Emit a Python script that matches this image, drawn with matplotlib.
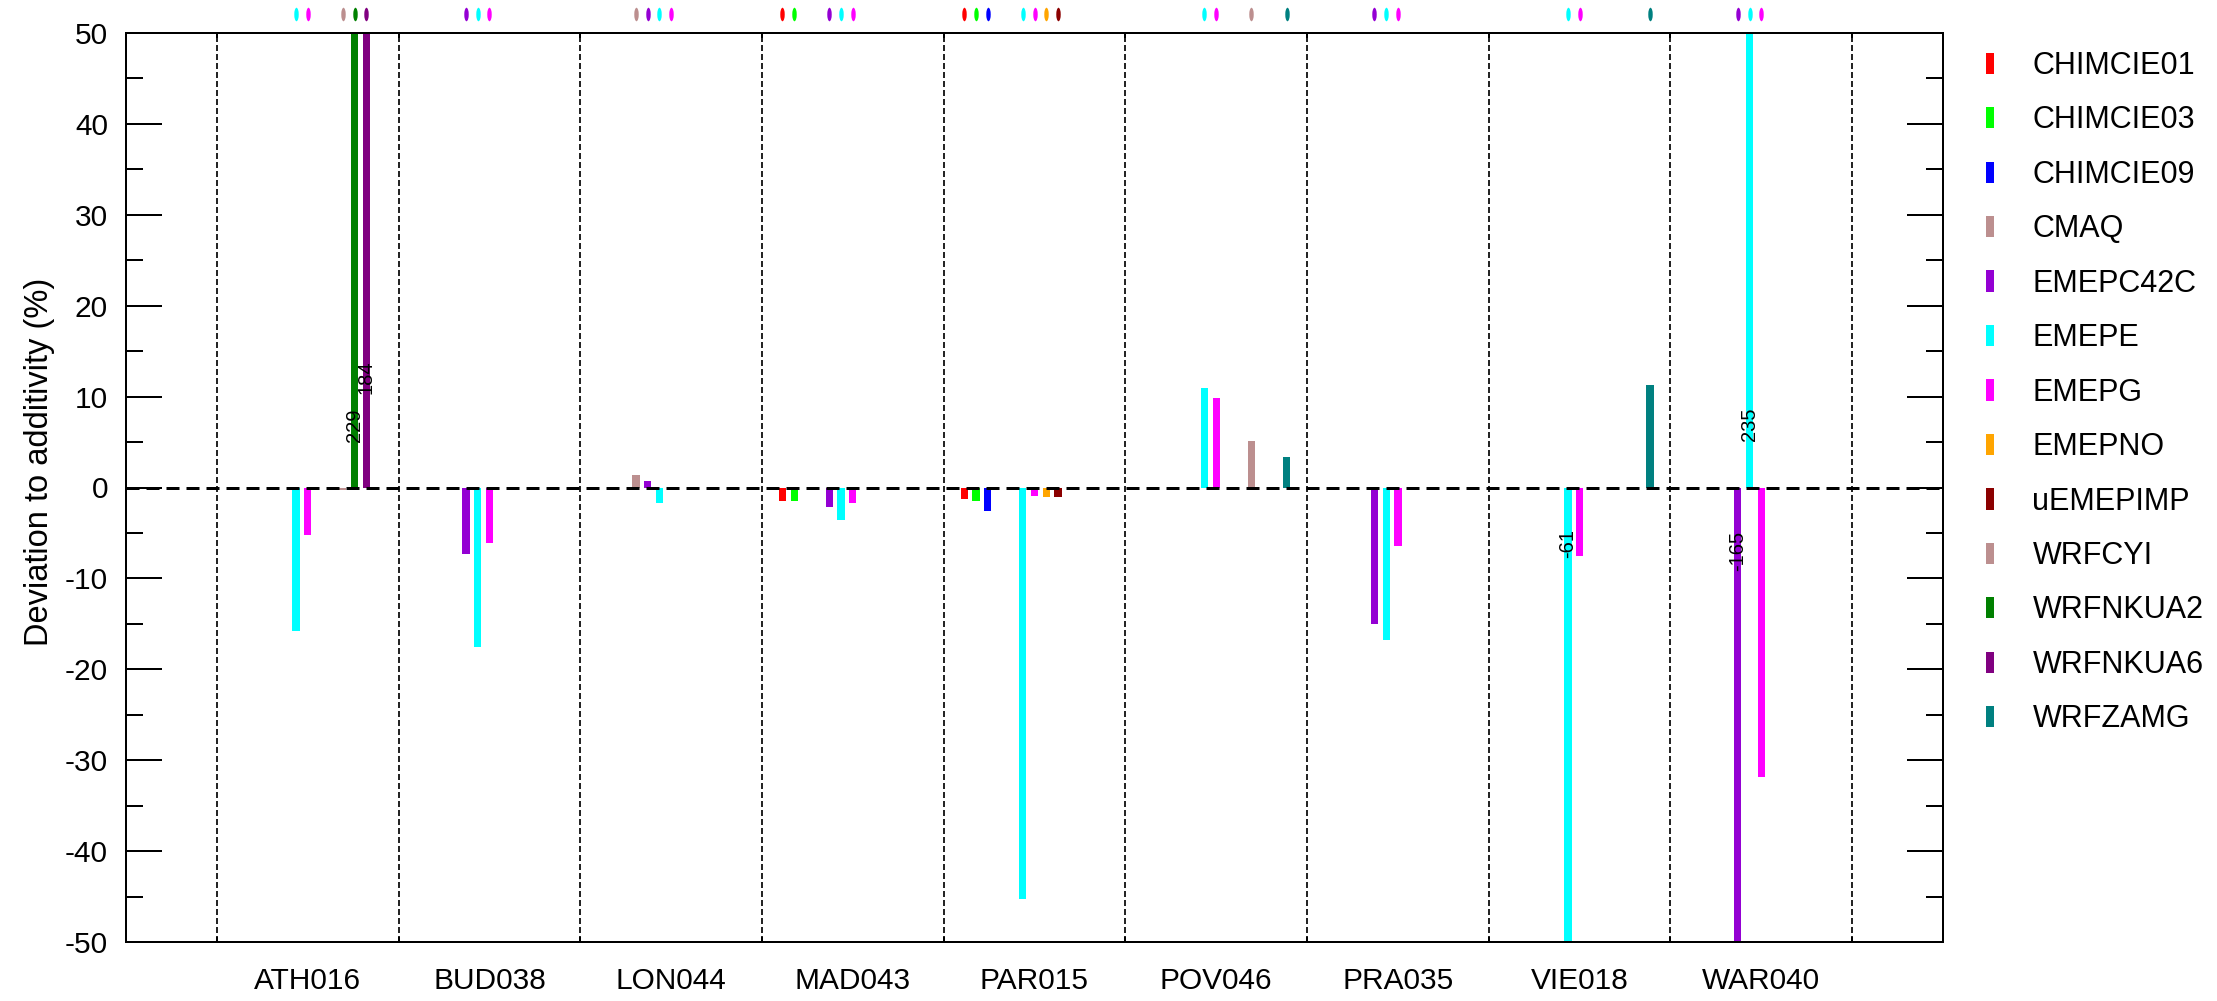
import numpy as np
import matplotlib
matplotlib.use("Agg")
import matplotlib.pyplot as plt
from matplotlib.path import Path
from matplotlib.patches import Patch
import matplotlib.transforms as mtransforms

# ---------------- data ----------------
stations = ["ATH016", "BUD038", "LON044", "MAD043", "PAR015",
            "POV046", "PRA035", "VIE018", "WAR040"]
models = ["CHIMCIE01", "CHIMCIE03", "CHIMCIE09", "CMAQ", "EMEPC42C", "EMEPE",
          "EMEPG", "EMEPNO", "uEMEPIMP", "WRFCYI", "WRFNKUA2", "WRFNKUA6", "WRFZAMG"]
colors = ["#FF0000", "#00FF00", "#0000FF", "#BC8F8F", "#9400D3", "#00FFFF",
          "#FF00FF", "#FFA500", "#8B0000", "#BC8F8F", "#008000", "#800080", "#008080"]
nan = np.nan
# values per model, one per station (NaN = model not available)
CHIMCIE01 = [nan, nan, nan, -1.5, -1.3, nan, nan, nan, nan]
CHIMCIE03 = [nan, nan, nan, -1.5, -1.5, nan, nan, nan, nan]
CHIMCIE09 = [nan, nan, nan, nan, -2.6, nan, nan, nan, nan]
CMAQ      = [nan, nan, 1.4, nan, nan, nan, nan, nan, nan]
EMEPC42C  = [nan, -7.3, 0.7, -2.2, nan, nan, -15.0, nan, -165]
EMEPE     = [-15.8, -17.6, -1.7, -3.6, -45.3, 11.0, -16.8, -61, 235]
EMEPG     = [-5.2, -6.1, -0.3, -1.7, -0.9, 9.9, -6.4, -7.5, -31.9]
EMEPNO    = [nan, nan, nan, nan, -1.1, nan, nan, nan, nan]
uEMEPIMP  = [nan, nan, nan, nan, -1.0, nan, nan, nan, nan]
WRFCYI    = [-0.3, nan, nan, nan, nan, 5.1, nan, nan, nan]
WRFNKUA2  = [229, nan, nan, nan, nan, nan, nan, nan, nan]
WRFNKUA6  = [184, nan, nan, nan, nan, nan, nan, nan, nan]
WRFZAMG   = [nan, nan, nan, nan, nan, 3.4, nan, 11.3, nan]
series = [CHIMCIE01, CHIMCIE03, CHIMCIE09, CMAQ, EMEPC42C, EMEPE, EMEPG,
          EMEPNO, uEMEPIMP, WRFCYI, WRFNKUA2, WRFNKUA6, WRFZAMG]
# vertical position of the value labels for out-of-range bars (station, model) -> y
label_y = {(0, "WRFNKUA2"): 6.9, (0, "WRFNKUA6"): 12.1, (7, "EMEPE"): -6.2,
           (8, "EMEPC42C"): -7.0, (8, "EMEPE"): 7.0}

ymin, ymax = -50, 50

# ---------------- style ----------------
plt.rcParams['font.family'] = ['Liberation Sans', 'DejaVu Sans']
plt.rcParams['lines.scale_dashes'] = False
plt.rcParams['axes.unicode_minus'] = False
PX = 0.72  # points per pixel at dpi 100

W, H = 2217, 1001
fig = plt.figure(figsize=(W / 100, H / 100), dpi=100)
ax_l, ax_r, ax_t, ax_b = 126, 1943, 33, 942
ax = fig.add_axes([ax_l / W, 1 - ax_b / H, (ax_r - ax_l) / W, (ax_b - ax_t) / H])

nst = len(stations)
nm = len(models)
slot = 0.0645
bw = 0.04
x = np.arange(nst)

# grid lines
for b in np.arange(nst + 1) - 0.5:
    ax.axvline(b, color="black", lw=1.7 * PX, ls=(0, (6 * PX, 3 * PX)), zorder=1)
ax.axhline(0, color="black", lw=3 * PX, ls=(0, (13 * PX, 7 * PX)), zorder=3)

# marker for availability (thin vertical ellipse)
circ = Path.unit_circle()
ell = Path(circ.vertices * np.array([0.33, 1.0]), circ.codes)
mk_trans = mtransforms.blended_transform_factory(ax.transData, ax.transAxes)

for k, (name, col, vals) in enumerate(zip(models, colors, series)):
    v = np.array(vals, dtype=float)
    xs = x + (k - (nm - 1) / 2) * slot
    ok = ~np.isnan(v)
    ax.bar(xs[ok], v[ok], width=bw, color=col, zorder=2, linewidth=0)
    ax.plot(xs[ok], np.full(ok.sum(), 1.0 + 19 / (ax_b - ax_t)), ls="none",
            marker=ell, ms=13.5 * PX, color=col, mew=0, transform=mk_trans, clip_on=False)
    for i in np.where(ok)[0]:
        if abs(v[i]) > ymax:
            ax.text(xs[i], label_y[(i, name)], f"{v[i]:.0f}", rotation=90,
                    ha="center", va="center", fontsize=14.5, zorder=4)

ax.set_xlim(-1, nst)
ax.set_ylim(ymin, ymax)

ax.set_yticks(np.arange(ymin, ymax + 1, 10))
ax.set_yticks(np.arange(ymin + 5, ymax, 10), minor=True)
ax.tick_params(axis="y", which="major", direction="in", length=36 * PX, width=2 * PX,
               right=True, labelsize=21.5, pad=13)
ax.tick_params(axis="y", which="minor", direction="in", length=17 * PX, width=2 * PX,
               right=True)

ax.set_xticks(np.arange(nst + 1) - 0.5)
ax.set_xticklabels([])
ax.set_xticks(x, minor=True)
ax.set_xticklabels(stations, minor=True)
ax.tick_params(axis="x", which="major", direction="in", length=5 * PX, width=2 * PX, top=True)
ax.tick_params(axis="x", which="minor", length=0, labelsize=21.5, pad=18)

for s in ax.spines.values():
    s.set_linewidth(2 * PX)

fig.text(40 / W, 1 - 462 / H, "Deviation to additivity (%)", rotation=90,
         ha="center", va="center", fontsize=23.5)

handles = [Patch(facecolor=c, edgecolor="none") for c in colors]
leg = fig.legend(handles, models, loc="upper left",
                 bbox_to_anchor=(1986 / W, 1 - 51 / H), frameon=False,
                 fontsize=22, handlelength=0.27, handleheight=0.7,
                 handletextpad=1.25, labelspacing=0.80, borderaxespad=0, borderpad=0)

fig.savefig("out.png", dpi=100)
